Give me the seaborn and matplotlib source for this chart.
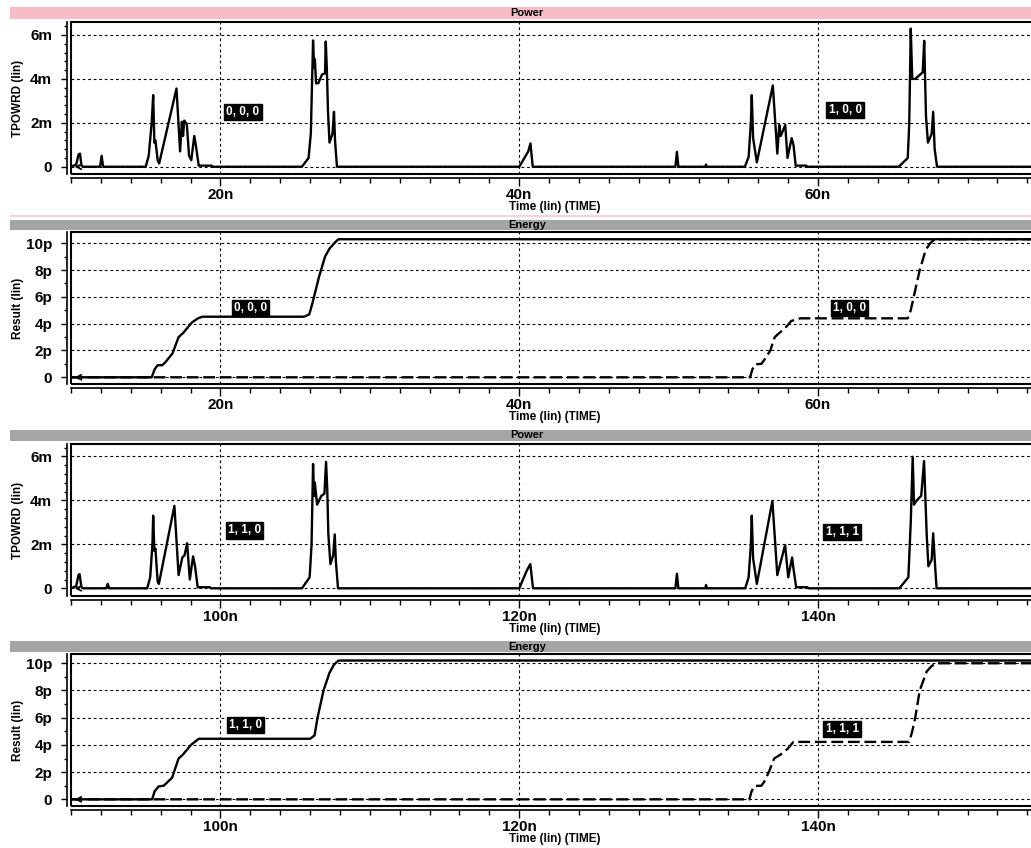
""" HSPICE style power / energy waveforms redrawn with seaborn
    four stacked panels: power and energy for two input sweeps
"""

import matplotlib
matplotlib.use("Agg")
import matplotlib.pyplot as plt
from matplotlib.patches import Rectangle
import seaborn as sns

# ---- data (time in ns, power in mW, energy in pJ) ----
power_top_t = [10.0, 10.35, 10.5, 10.6, 10.7, 10.8, 11.95, 12.05, 12.15, 15.0, 15.2, 15.4, 15.5, 15.58,
               15.65, 15.8, 15.9, 17.06, 17.3, 17.42, 17.5, 17.58, 17.75, 17.9, 18.05, 18.25, 18.35,
               18.55, 19.4, 19.5, 25.45, 25.9, 26.05, 26.2, 26.27, 26.32, 26.4, 26.55, 26.8, 27.0,
               27.05, 27.12, 27.2, 27.3, 27.5, 27.6, 27.67, 27.8, 40.0, 40.6, 40.75, 40.9, 50.45,
               50.55, 50.65, 52.45, 52.5, 52.55, 55.1, 55.35, 55.5, 55.56, 55.65, 55.9, 56.97, 57.27,
               57.4, 57.5, 57.8, 57.95, 58.23, 58.35, 58.5, 59.2, 59.3, 65.4, 66.0, 66.1, 66.2, 66.3,
               66.5, 67.0, 67.1, 67.22, 67.35, 67.6, 67.7, 67.8, 67.96, 74.85]
power_top_mw = [0, 0.1, 0.55, 0.6, 0.05, 0, 0, 0.5, 0, 0, 0.5, 2.0, 3.26, 1.1,
                1.2, 0.3, 0.15, 3.56, 0.7, 2.05, 1.4, 2.1, 1.95, 0.5, 0.3, 1.4, 1.0,
                0.05, 0.05, 0, 0, 0.4, 1.5, 5.75, 4.5, 4.9, 3.8, 3.8, 4.2, 4.25,
                5.7, 4.5, 2.5, 1.1, 1.5, 2.5, 1.2, 0, 0, 0.7, 1.06, 0, 0,
                0.68, 0, 0, 0.1, 0, 0, 0.45, 2.0, 3.26, 1.3, 0.2, 3.7, 0.6,
                1.9, 1.4, 1.9, 0.4, 1.3, 1.0, 0.05, 0.05, 0, 0, 0.4, 2.0, 6.29, 4.0,
                4.0, 4.3, 5.73, 2.3, 1.1, 1.5, 2.5, 0.8, 0, 0]

power_bot_t = [90.0, 90.35, 90.5, 90.57, 90.7, 90.8, 92.35, 92.46, 92.55, 95.1, 95.3, 95.45, 95.5,
               95.58, 95.65, 95.8, 95.88, 96.92, 97.2, 97.45, 97.6, 97.77, 97.95, 98.17, 98.3,
               98.48, 99.28, 99.35, 105.46, 105.97, 106.1, 106.2, 106.27, 106.32, 106.47, 106.75,
               106.96, 107.07, 107.15, 107.22, 107.36, 107.55, 107.65, 107.73, 107.87, 120.0,
               120.5, 120.74, 120.92, 130.45, 130.55, 130.65, 132.45, 132.5, 132.55, 135.12,
               135.35, 135.5, 135.56, 135.65, 135.9, 136.94, 137.27, 137.79, 138.0, 138.26,
               138.35, 138.53, 139.28, 139.35, 145.44, 146.04, 146.2, 146.33, 146.42, 146.6,
               146.9, 147.09, 147.27, 147.38, 147.6, 147.7, 147.85, 147.93, 154.85]
power_bot_mw = [0, 0.1, 0.6, 0.65, 0.05, 0, 0, 0.2, 0, 0, 0.5, 2.0, 3.3,
                1.7, 1.8, 0.3, 0.2, 3.75, 0.6, 1.4, 1.5, 2.05, 0.4, 1.45, 1.0,
                0.05, 0.05, 0, 0, 0.5, 2.0, 5.65, 4.2, 4.8, 3.8, 4.2,
                4.3, 5.75, 4.5, 2.5, 1.1, 1.5, 2.45, 1.2, 0, 0,
                0.8, 1.1, 0, 0, 0.66, 0, 0, 0.15, 0, 0,
                0.5, 2.0, 3.3, 1.36, 0.2, 3.97, 0.6, 1.97, 0.5, 1.4,
                0.9, 0.05, 0.05, 0, 0, 0.5, 3.0, 5.98, 3.8, 4.0,
                4.2, 5.78, 2.4, 1.0, 1.3, 2.5, 0.8, 0, 0]

energy_000_t = [10.0, 15.4, 15.6, 15.8, 16.1, 16.3, 16.8, 17.2, 17.5, 17.8, 18.1, 18.5, 18.8,
                25.6, 25.95, 26.15, 26.6, 27.0, 27.3, 27.7, 27.9, 74.85]
energy_000_pj = [0, 0, 0.6, 0.9, 0.9, 1.1, 1.8, 3.0, 3.3, 3.7, 4.1, 4.4, 4.52,
                 4.52, 4.7, 5.5, 7.5, 9.0, 9.6, 10.1, 10.3, 10.3]

energy_100_t = [10.0, 55.45, 55.6, 55.8, 56.2, 56.4, 56.8, 57.1, 57.5, 57.9, 58.2, 58.8,
                66.0, 66.2, 66.4, 66.8, 67.2, 67.5, 67.8, 74.85]
energy_100_pj = [0, 0, 0.6, 0.97, 1.0, 1.3, 2.0, 3.0, 3.4, 3.8, 4.2, 4.4,
                 4.4, 5.0, 6.0, 8.0, 9.5, 10.0, 10.3, 10.3]

energy_110_t = [90.0, 95.43, 95.6, 95.87, 96.2, 96.4, 96.77, 97.2, 97.5, 98.03, 98.55,
                106.0, 106.3, 106.5, 106.9, 107.3, 107.6, 107.9, 154.85]
energy_110_pj = [0, 0, 0.6, 0.95, 1.0, 1.2, 1.6, 3.0, 3.3, 4.0, 4.45,
                 4.45, 4.7, 6.0, 8.0, 9.3, 9.9, 10.2, 10.2]

energy_111_t = [90.0, 135.4, 135.55, 135.75, 136.2, 136.4, 136.7, 137.06, 137.5, 137.95, 138.35,
                146.1, 146.3, 146.5, 146.8, 147.27, 147.6, 147.93, 154.85]
energy_111_pj = [0, 0, 0.6, 0.98, 1.0, 1.3, 2.0, 3.0, 3.3, 3.7, 4.22,
                 4.22, 5.0, 6.0, 8.0, 9.4, 9.8, 10.0, 10.0]

power_ticks = [0, 2, 4, 6]
power_ticklabels = ["0", "2m", "4m", "6m"]
energy_ticks = [0, 2, 4, 6, 8, 10]
energy_ticklabels = ["0", "2p", "4p", "6p", "8p", "10p"]
top_xticks = [20, 40, 60]
top_xticklabels = ["20n", "40n", "60n"]
bot_xticks = [100, 120, 140]
bot_xticklabels = ["100n", "120n", "140n"]

# ---- style ----
sns.set_theme(style="white")
plt.rcParams['font.family'] = ['Liberation Sans', 'DejaVu Sans']
plt.rcParams['font.weight'] = 'bold'
plt.rcParams['text.color'] = 'black'
plt.rcParams['axes.labelcolor'] = 'black'
plt.rcParams['xtick.color'] = 'black'
plt.rcParams['ytick.color'] = 'black'

W, H = 1031, 848
fig = plt.figure(figsize=(W / 100, H / 100), dpi=100)
fig.patch.set_facecolor("white")

AX_L, AX_R = 71, 1040
DASH = (0, (5, 2))


def px_rect(x0, y0, x1, y1):
    # figure-fraction rectangle from pixel coords (y measured from top)
    return [x0 / W, 1 - y1 / H, (x1 - x0) / W, (y1 - y0) / H]


def header(y0, y1, text, color):
    fig.add_artist(Rectangle((10 / W, 1 - y1 / H), (1044 - 10) / W, (y1 - y0) / H,
                             transform=fig.transFigure, color=color, lw=0))
    fig.text(527 / W, 1 - (y0 + y1) / 2 / H, text, ha="center", va="center",
             fontsize=8, fontweight="bold", color="black")


def label_box(ax, x, y, text):
    ax.text(x, y, text, color="white", fontsize=8.5, fontweight="bold", ha="left", va="center",
            bbox=dict(boxstyle="square,pad=0.18", fc="black", ec="black"))


def panel(y0, y1, xlim, ylim, xticks, xlabels, yticks, ylabels, yminor, ylabel, series, labels):
    ax = fig.add_axes(px_rect(AX_L, y0, AX_R, y1))
    h = y1 - y0
    for t, v, ls in series:
        sns.lineplot(x=t, y=v, ax=ax, color="black", lw=1.7, linestyle=ls,
                     estimator=None, sort=False)
    ax.set_xlim(*xlim)
    ax.set_ylim(*ylim)
    ax.set_xticks(xticks)
    ax.set_xticklabels(xlabels, fontsize=8.5, fontweight="bold", color="black")
    ax.set_xticks([x for x in range(int(xlim[0]), int(xlim[1]) + 1, 2)], minor=True)
    ax.set_yticks(yticks)
    ax.set_yticklabels(ylabels, fontsize=8.5, fontweight="bold", color="black")
    ax.set_yticks(yminor, minor=True)
    ax.grid(True, which="major", color="black", lw=0.8, linestyle=(0, (2.5, 2.5)))
    ax.tick_params(axis="x", which="major", direction="out", length=5.5, width=1, pad=1.5,
                   bottom=True, color="black")
    ax.tick_params(axis="x", which="minor", direction="out", length=3.5, width=1, bottom=True,
                   color="black")
    ax.tick_params(axis="y", which="major", direction="out", length=4.5, width=1, pad=6,
                   left=True, color="black")
    ax.tick_params(axis="y", which="minor", direction="out", length=2.5, width=1, left=True,
                   color="black")
    sns.despine(ax=ax, offset=3)
    for s in ["left", "bottom"]:
        ax.spines[s].set_color("black")
        ax.spines[s].set_linewidth(1.2)
    ax.add_patch(Rectangle((0, 0), 1, 1, transform=ax.transAxes, fill=False,
                           ec="black", lw=1.5, clip_on=False))
    ax.set_xlabel("Time (lin) (TIME)", fontsize=8.5, fontweight="bold", color="black")
    ax.xaxis.set_label_coords((555 - AX_L) / (AX_R - AX_L), -27 / h)
    ax.set_ylabel(ylabel, fontsize=8.5, fontweight="bold", color="black")
    ax.yaxis.set_label_coords(-(AX_L - 24) / (AX_R - AX_L), 0.5)
    # start marker arrow at the left edge
    ax.annotate("", xy=(xlim[0] + 0.05, 0), xytext=(xlim[0] + 0.7, 0),
                arrowprops=dict(arrowstyle="->", color="black", lw=1.2, mutation_scale=9))
    for x, y, text in labels:
        label_box(ax, x, y, text)
    return ax


# headers
header(7, 19, "Power", "#F6BCC8")
fig.add_artist(Rectangle((10 / W, 1 - 217 / H), (1044 - 10) / W, 2.5 / H,
                         transform=fig.transFigure, color="#F6D3DA", lw=0))
header(220, 230, "Energy", "#A5A5A5")
header(430, 441, "Power", "#A5A5A5")
header(641, 652, "Energy", "#A5A5A5")

power_minor = [i * 0.4 for i in range(17)]
energy_minor = list(range(0, 11))

panel(22, 174, (10, 74.85), (-0.33, 6.59), top_xticks, top_xticklabels,
      power_ticks, power_ticklabels, power_minor, "TPOWRD (lin)",
      [(power_top_t, power_top_mw, "-")],
      [(20.4, 2.49, "0, 0, 0"), (60.7, 2.58, "1, 0, 0")])

panel(232, 384, (10, 74.85), (-0.5, 10.84), top_xticks, top_xticklabels,
      energy_ticks, energy_ticklabels, energy_minor, "Result (lin)",
      [(energy_000_t, energy_000_pj, "-"), (energy_100_t, energy_100_pj, DASH)],
      [(20.9, 5.19, "0, 0, 0"), (61.0, 5.19, "1, 0, 0")])

panel(444, 596, (90, 154.85), (-0.35, 6.56), bot_xticks, bot_xticklabels,
      power_ticks, power_ticklabels, power_minor, "TPOWRD (lin)",
      [(power_bot_t, power_bot_mw, "-")],
      [(100.5, 2.63, "1, 1, 0"), (140.5, 2.57, "1, 1, 1")])

panel(654, 806, (90, 154.85), (-0.49, 10.68), bot_xticks, bot_xticklabels,
      energy_ticks, energy_ticklabels, energy_minor, "Result (lin)",
      [(energy_110_t, energy_110_pj, "-"), (energy_111_t, energy_111_pj, DASH)],
      [(100.55, 5.46, "1, 1, 0"), (140.5, 5.17, "1, 1, 1")])

plt.savefig("out.png", dpi=100)
